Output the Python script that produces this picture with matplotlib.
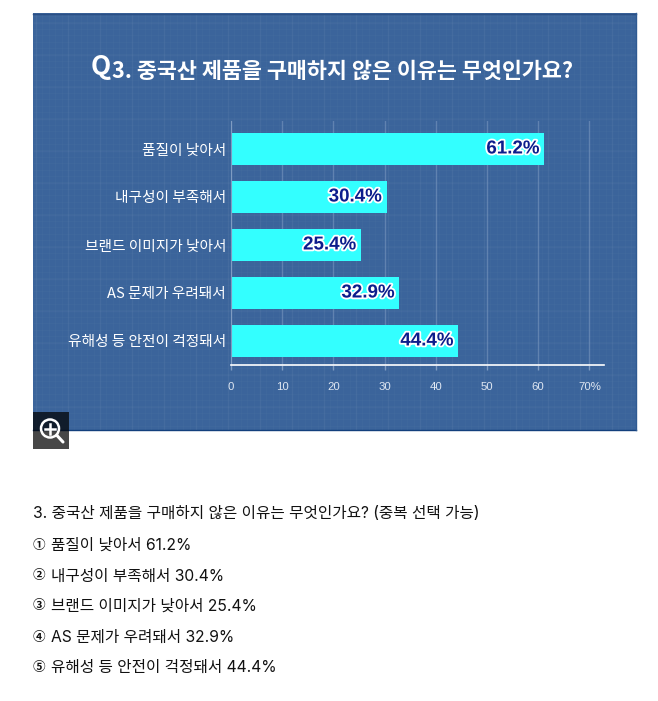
import numpy as np
import matplotlib
matplotlib.use("Agg")
import matplotlib.pyplot as plt
import matplotlib.patheffects as pe
from matplotlib.patches import Rectangle, Circle
from matplotlib.collections import LineCollection

categories = ["품질이 낮아서", "내구성이 부족해서", "브랜드 이미지가 낮아서", "AS 문제가 우려돼서", "유해성 등 안전이 걱정돼서"]
values = [61.2, 30.4, 25.4, 32.9, 44.4]
xticks = [0, 10, 20, 30, 40, 50, 60, 70]
xticklabels = ["0", "10", "20", "30", "40", "50", "60", "70%"]
title = "3. 중국산 제품을 구매하지 않은 이유는 무엇인가요?"
body_lines = ["3. 중국산 제품을 구매하지 않은 이유는 무엇인가요? (중복 선택 가능)"]
markers = ["①", "②", "③", "④", "⑤"]

KR = ["Noto Sans CJK KR", "DejaVu Sans"]
BODY = ["Inter", "Noto Sans CJK KR", "DejaVu Sans"]
NARROW = ["Liberation Sans", "DejaVu Sans"]
W, H = 658, 701
fig = plt.figure(figsize=(W / 100, H / 100), dpi=100, facecolor="white")

# Pixel-space overlay for the panel, texture, icon and page text
bg = fig.add_axes([0, 0, 1, 1], zorder=0)
bg.set_xlim(0, W); bg.set_ylim(H, 0); bg.axis("off")
bg.add_patch(Rectangle((33, 13), 603, 417, fc="#3b649b", ec="none"))
fine_x = np.arange(36, 636, 6.4); fine_y = np.arange(16, 430, 6.4)
bg.add_collection(LineCollection([[(x, 13), (x, 430)] for x in fine_x], colors="#ffffff", alpha=0.02, linewidths=0.8))
bg.add_collection(LineCollection([[(33, y), (636, y)] for y in fine_y], colors="#ffffff", alpha=0.02, linewidths=0.8))
coarse_x = np.arange(36, 636, 32); coarse_y = np.arange(23, 430, 32)
bg.add_collection(LineCollection([[(x, 13), (x, 430)] for x in coarse_x], colors="#ffffff", alpha=0.03, linewidths=1))
bg.add_collection(LineCollection([[(33, y), (636, y)] for y in coarse_y], colors="#ffffff", alpha=0.03, linewidths=1))
bg.plot([33, 636], [13.5, 13.5], color="#2a4f85", lw=1)
bg.plot([33, 636], [429.5, 429.5], color="#123f7c", lw=1)
bg.plot([635.5, 635.5], [13, 430], color="#2f5a92", lw=1)

# Title
bg.text(91, 67, "Q", family=KR, fontsize=19, fontweight="bold", color="white", va="center", ha="left")
bg.text(112, 71, title, family=KR, fontsize=15.7, fontweight="bold", color="white", va="center", ha="left")

# Data axes: x=0 at px 231, axis end at px 604, top px 121, baseline px 365
ax = fig.add_axes([231 / W, 1 - 365 / H, 373 / W, 244 / H], zorder=1)
ax.patch.set_alpha(0)
y = np.arange(len(values))
ax.set_xlim(0, 72.85)
ax.set_ylim(4.5, -0.583)
ax.set_xticks(xticks)
ax.set_xticklabels(xticklabels, family=NARROW, fontsize=8.2, color="#dfe7f2")
ax.tick_params(axis="x", length=3.6, width=1, color="#7f9cc2", pad=9)
ax.set_yticks(y)
ax.set_yticklabels(categories, family=KR, fontsize=10.6, color="white")
ax.tick_params(axis="y", length=0, pad=3.5)
ax.grid(axis="x", color="#7f9cc2", lw=1, alpha=0.55)
ax.set_axisbelow(True)
for s in ["top", "right"]:
    ax.spines[s].set_visible(False)
ax.spines["left"].set_color("#7f9cc2")
ax.spines["bottom"].set_color("white")
ax.spines["bottom"].set_linewidth(1.2)
ax.barh(y, values, height=0.667, color="#33ffff", edgecolor="none", zorder=2)
for yi, v in zip(y, values):
    ax.annotate(f"{v}%", (v, yi), xytext=(-3.5, 0), textcoords="offset points",
                ha="right", va="center", family=NARROW, fontsize=13.5, fontweight="bold",
                color="#0c1d8c", zorder=3,
                path_effects=[pe.withStroke(linewidth=2.6, foreground="white")])

# Zoom icon
icon = fig.add_axes([0, 0, 1, 1], zorder=2)
icon.set_xlim(0, W); icon.set_ylim(H, 0); icon.axis("off")
icon.add_patch(Rectangle((33, 412), 36, 37, fc="#000000", alpha=0.72, ec="none"))
icon.add_patch(Circle((50, 428.5), 9, fc="none", ec="white", lw=1.8))
icon.plot([45, 55], [428.5, 428.5], color="white", lw=1.8)
icon.plot([50, 50], [423.5, 433.5], color="white", lw=1.8)
icon.plot([57, 63], [435.5, 442], color="white", lw=2.2, solid_capstyle="round")

# Page text below the chart
icon.text(33, 514, body_lines[0], family=BODY, fontsize=11.28, color="#111111", va="center", ha="left")
line_y = [545, 576, 606, 637, 667]
for m, c, v, ly in zip(markers, categories, values, line_y):
    icon.text(33, ly, m, family=KR, fontsize=9, fontweight="bold", color="#111111", va="center", ha="left")
    icon.text(51, ly, f"{c} {v}%", family=BODY, fontsize=11.28, color="#111111", va="center", ha="left")

fig.savefig("out.png", dpi=100, facecolor="white")
